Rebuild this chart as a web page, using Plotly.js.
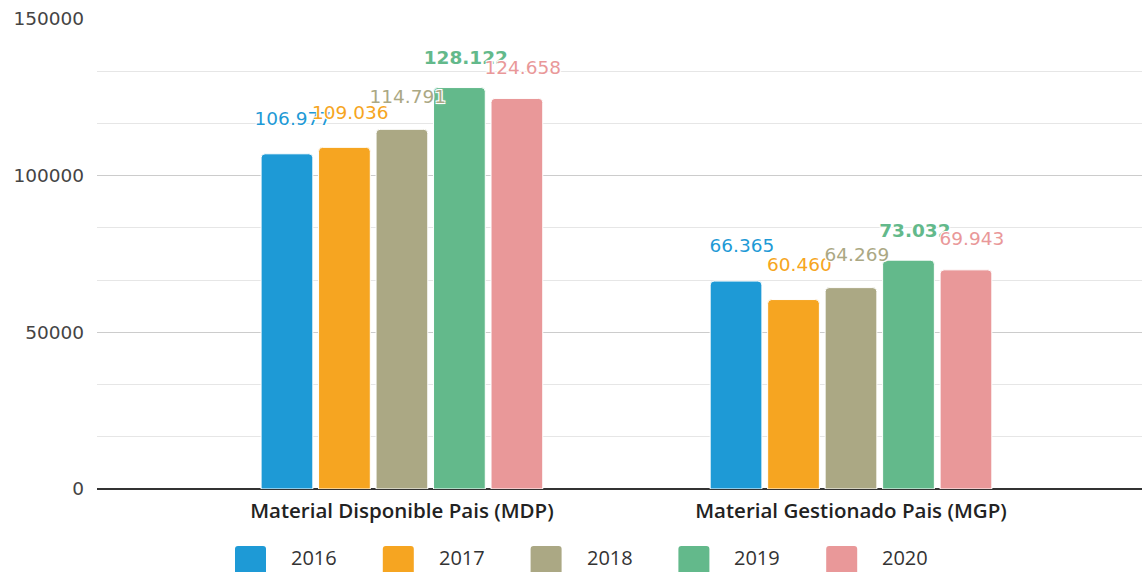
<!DOCTYPE html>
<html>
<head>
<meta charset="utf-8">
<script src="https://cdn.plot.ly/plotly-3.0.1.min.js"></script>
<style>
  html, body { margin: 0; padding: 0; background: #fff; }
  #chart { width: 1142px; height: 572px; }
</style>
</head>
<body>
<div id="chart"></div>
<script>
// Material volumes per indicator and year
const categories = ['Material Disponible Pais (MDP)', 'Material Gestionado Pais (MGP)'];
const years = ['2016', '2017', '2018', '2019', '2020'];
const values2016 = [106977, 66365];
const values2017 = [109036, 60460];
const values2018 = [114791, 64269];
const values2019 = [128122, 73032];
const values2020 = [124658, 69943];
const yTickValues = [0, 50000, 100000, 150000];

const seriesValues = [values2016, values2017, values2018, values2019, values2020];
const seriesColors = ['#1e9ad6', '#f6a521', '#aba884', '#63b98b', '#e99899'];
const labelWeights = [400, 400, 400, 700, 400];
// invisible marker sizes set how far each value label sits above its bar
const labelLift = [37, 36, 33, 28, 30];

const plotLeft = 97, plotWidth = 1045;
const halo = '-1px -1px 0 #fff, 1px -1px 0 #fff, -1px 1px 0 #fff, 1px 1px 0 #fff, 0 0 3px #fff';

const traces = [];
years.forEach((yr, i) => {
  traces.push({
    type: 'bar',
    name: yr,
    x: categories,
    y: seriesValues[i],
    marker: { color: seriesColors[i], cornerradius: 4, line: { color: '#ffffff', width: 1 } },
    hovertemplate: '%{x}<br>' + yr + ': %{y:,}<extra></extra>',
    showlegend: false
  });
});
years.forEach((yr, i) => {
  traces.push({
    type: 'scatter',
    mode: 'markers+text',
    x: categories,
    y: seriesValues[i],
    marker: { size: labelLift[i], opacity: 0 },
    texttemplate: '\u00a0\u00a0%{y:,}',
    textposition: 'top center',
    textfont: { family: 'DejaVu Sans', size: 18.5, color: seriesColors[i], weight: labelWeights[i], shadow: halo },
    hoverinfo: 'skip',
    showlegend: false,
    cliponaxis: false
  });
});

// legend row: rounded swatches plus year captions
const legendStart = 235, legendPitch = 147.8;
const shapes = [];
const annotations = [];
years.forEach((yr, i) => {
  const left = legendStart + i * legendPitch;
  shapes.push({
    type: 'path',
    xref: 'paper', yref: 'paper',
    xsizemode: 'pixel', ysizemode: 'pixel',
    xanchor: (left - plotLeft) / plotWidth, yanchor: 0,
    path: 'M0,-60 Q0,-57 3,-57 L28,-57 Q31,-57 31,-60 L31,-95 L0,-95 Z',
    fillcolor: seriesColors[i],
    line: { width: 0 }
  });
  annotations.push({
    xref: 'paper', yref: 'paper',
    x: (left + 54 - plotLeft) / plotWidth, y: 0,
    xanchor: 'left', yanchor: 'middle',
    yshift: -68,
    showarrow: false,
    text: yr,
    font: { family: 'Open Sans', size: 20, color: '#333' }
  });
});

const layout = {
  width: 1142,
  height: 572,
  margin: { l: plotLeft, r: 0, t: 19, b: 83 },
  paper_bgcolor: '#ffffff',
  plot_bgcolor: '#ffffff',
  separators: ',.',
  barmode: 'group',
  bargap: 0.36,
  bargroupgap: 0.1,
  scattermode: 'group',
  scattergap: 0.36,
  showlegend: false,
  xaxis: {
    type: 'category',
    range: [-0.679, 1.648],
    showgrid: false,
    showline: false,
    ticks: '',
    ticklabelstandoff: 7,
    tickfont: { family: 'Open Sans', size: 20.5, color: '#222', weight: 600 }
  },
  yaxis: {
    range: [0, 150000],
    tickmode: 'array',
    tickvals: yTickValues,
    tickformat: 'd',
    showline: false,
    ticks: '',
    ticklabelstandoff: 12,
    tickfont: { family: 'DejaVu Sans', size: 18.5, color: '#444' },
    gridcolor: '#cccccc',
    gridwidth: 1,
    zeroline: true,
    zerolinecolor: '#333333',
    zerolinewidth: 2,
    minor: { tickmode: 'linear', tick0: 0, dtick: 50000 / 3, showgrid: true, gridcolor: '#e6e6e6', gridwidth: 1 }
  },
  shapes: shapes,
  annotations: annotations
};

Plotly.newPlot('chart', traces, layout, { displayModeBar: false, responsive: false });
</script>
</body>
</html>
